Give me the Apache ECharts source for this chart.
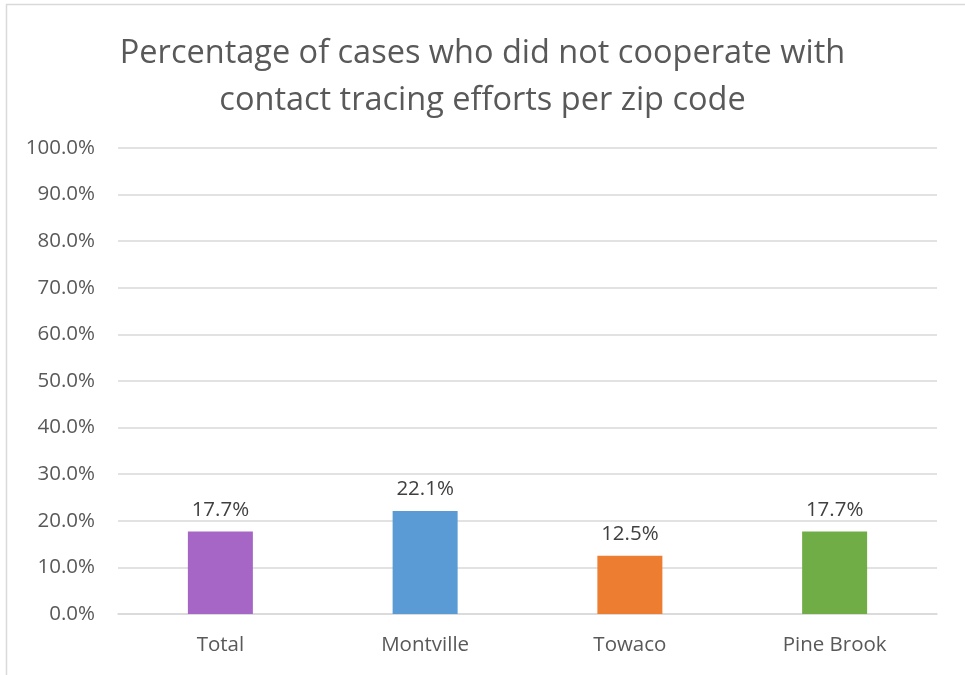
<!DOCTYPE html>
<html><head><meta charset="utf-8">
<script src="https://cdn.jsdelivr.net/npm/echarts@6/dist/echarts.min.js"></script>
<style>html,body{margin:0;padding:0;background:#fff}#c{width:965px;height:675px}</style>
</head><body><div id="c"></div>
<script>
const categories = ['Total', 'Montville', 'Towaco', 'Pine Brook'];
const values = [17.7, 22.1, 12.5, 17.7];
const barColors = ['#A666C6', '#5B9BD5', '#ED7D31', '#70AD47'];
const titleText = 'Percentage of cases who did not cooperate with\ncontact tracing efforts per zip code';

const chart = echarts.init(document.getElementById('c'), null, {renderer: 'canvas'});
chart.setOption({
  backgroundColor: '#fff',
  animation: false,
  title: {
    text: titleText,
    left: 'center', top: 25,
    textStyle: {fontFamily: 'Open Sans', fontSize: 32.5, fontWeight: 'normal', color: '#595959', lineHeight: 47}
  },
  graphic: [{type: 'rect', shape: {x: 6.5, y: 4.5, width: 1000, height: 700}, style: {fill: 'none', stroke: '#D9D9D9', lineWidth: 1.5}, silent: true}],
  grid: {left: 118, right: 28, top: 148, bottom: 61},
  xAxis: {
    type: 'category', data: categories,
    axisLine: {show: true, lineStyle: {color: '#D9D9D9', width: 1.5}},
    axisTick: {show: false},
    axisLabel: {fontFamily: 'Open Sans', fontSize: 20.5, color: '#595959', margin: 21}
  },
  yAxis: {
    type: 'value', min: 0, max: 100, interval: 10,
    axisLine: {show: false}, axisTick: {show: false},
    splitLine: {lineStyle: {color: '#D9D9D9', width: 1.5}},
    axisLabel: {fontFamily: 'Open Sans', fontSize: 20.5, color: '#595959', margin: 23,
      formatter: v => v.toFixed(1) + '%'}
  },
  series: [{
    type: 'bar',
    data: values.map((v, i) => ({value: v, itemStyle: {color: barColors[i]}})),
    barWidth: 65,
    label: {show: true, position: 'top', distance: 11, fontFamily: 'Open Sans', fontSize: 20.5, color: '#404040',
      formatter: p => p.value.toFixed(1) + '%'}
  }]
});
</script></body></html>
